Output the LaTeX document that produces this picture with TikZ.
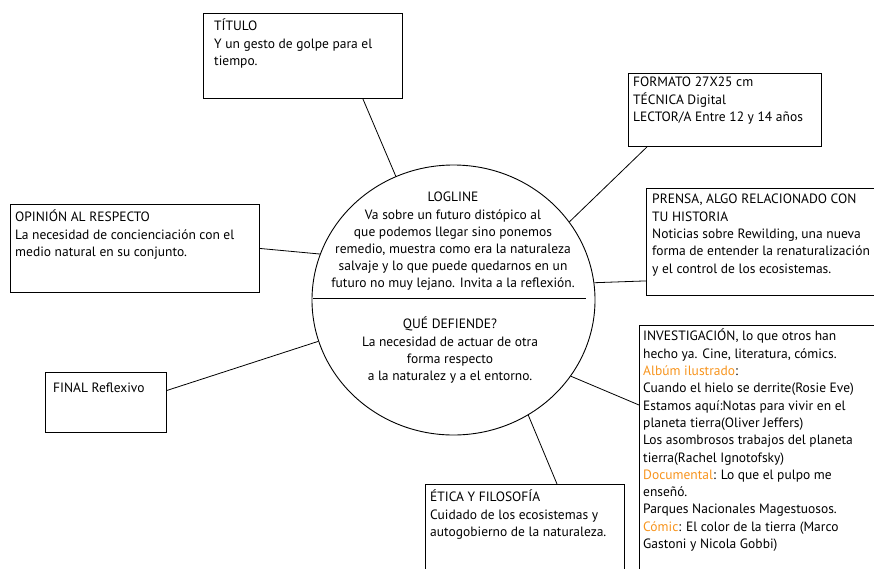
\documentclass[tikz,border=0pt]{standalone}
\usepackage{fontspec}
\setmainfont{PT Sans}
\usetikzlibrary{shapes.geometric}

\begin{document}
\begin{tikzpicture}[x=1pt,y=-1pt]
% Colors define
\definecolor{myOrange}{HTML}{F7941D}
\tikzset{
  box/.style={draw, line width=0.9pt, anchor=north west, inner sep=0pt},
  txt/.style={anchor=north west, align=left, inner sep=0pt, font=\fontsize{13.5}{17.3}\selectfont, execute at begin node=\strut},
  ctxt/.style={anchor=north, align=center, inner sep=0pt, font=\fontsize{13.5}{17.2}\selectfont, execute at begin node=\strut},
  link/.style={line width=0.8pt},
}
\useasboundingbox (0,0) rectangle (874,568);

% Central ellipse and its divider
\node[draw, ellipse, line width=0.9pt, minimum width=283, minimum height=270] (logline) at (453.5,300) {};
\draw[link] (313,298) -- (586,298);
\node[ctxt] (loglineT) at (453,192) {LOGLINE\\Va sobre un futuro distópico al\\que podemos llegar sino ponemos\\remedio, muestra como era la naturaleza\\salvaje y lo que puede quedarnos en un\\futuro no muy lejano. Invita a la reflexión.};
\node[ctxt] (defiende) at (450,317) {QUÉ DEFIENDE?\\La necesidad de actuar de otra\\forma respecto\\a la naturalez y a el entorno.};

% Boxes
\node[box, minimum width=199, minimum height=85] (titulo) at (203,13) {};
\node[box, minimum width=193, minimum height=73] (formato) at (628,73) {};
\node[box, minimum width=240, minimum height=107] (prensa) at (646,188) {};
\node[box, minimum width=249, minimum height=88] (opinion) at (10,204) {};
\node[box, minimum width=121, minimum height=60] (final) at (45,372) {};
\node[box, minimum width=199, minimum height=100] (etica) at (425,484) {};
\node[box, minimum width=240, minimum height=250] (investigacion) at (639,325) {};

% Box texts
\node[txt] (tituloT) at (214,19) {TÍTULO\\Y un gesto de golpe para el\\tiempo.};
\node[txt] (formatoT) at (633,77) {FORMATO 27X25 cm\\TÉCNICA Digital\\LECTOR/A Entre 12 y 14 años};
\node[txt] (prensaT) at (652,194) {PRENSA, ALGO RELACIONADO CON\\TU HISTORIA\\Noticias sobre Rewilding, una nueva\\forma de entender la renaturalización\\y el control de los ecosistemas.};
\node[txt] (opinionT) at (15,210) {OPINIÓN AL RESPECTO\\La necesidad de concienciación con el\\medio natural en su conjunto.};
\node[txt] (finalT) at (53,380) {FINAL Reflexivo};
\node[txt] (eticaT) at (430,490) {ÉTICA Y FILOSOFÍA\\Cuidado de los ecosistemas y\\autogobierno de la naturaleza.};
\node[txt] (investigacionT) at (643,329) {INVESTIGACIÓN, lo que otros han\\hecho ya. Cine, literatura, cómics.\\\textcolor{myOrange}{Albúm ilustrado}:\\Cuando el hielo se derrite(Rosie Eve)\\Estamos aquí:Notas para vivir en el\\planeta tierra(Oliver Jeffers)\\Los asombrosos trabajos del planeta\\tierra(Rachel Ignotofsky)\\\textcolor{myOrange}{Documental}: Lo que el pulpo me\\enseñó.\\Parques Nacionales Magestuosos.\\\textcolor{myOrange}{Cómic}: El color de la tierra (Marco\\Gastoni y Nicola Gobbi)};

% Connectors
\draw[link] ([xshift=-40]titulo.south east) -- (logline.115.8);
\draw[link] ([xshift=19]formato.south west) -- (logline.34.7);
\draw[link] (opinion.east) -- (logline.161.4);
\draw[link] ([yshift=15]prensa.south west) -- (logline.7.2);
\draw[link] ([yshift=12]final.east) -- (logline.197.9);
\draw[link] ([xshift=132]etica.north west) -- (logline.303.2);
\draw[link] ([yshift=-80]investigacion.north west) -- (logline.327.7);
\end{tikzpicture}
\end{document}
